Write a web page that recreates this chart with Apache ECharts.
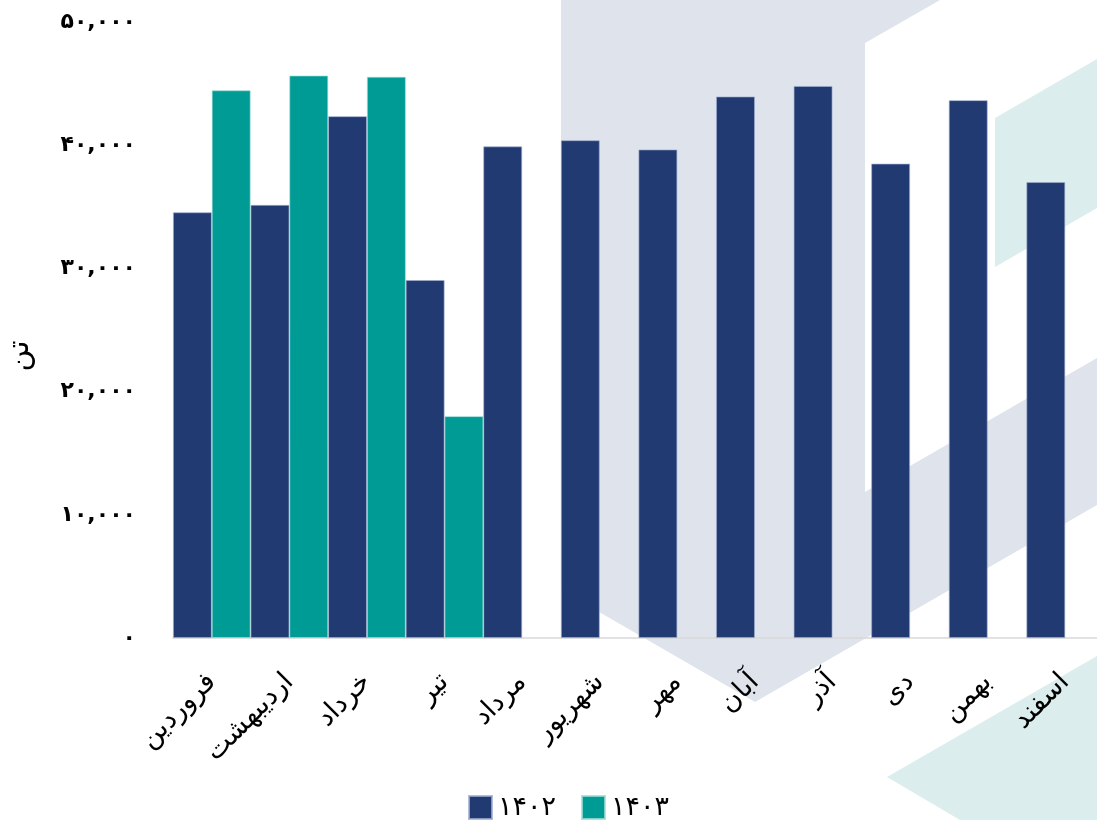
<!DOCTYPE html>
<html><head><meta charset="utf-8">
<script src="https://cdn.jsdelivr.net/npm/echarts@6/dist/echarts.min.js"></script>
<style>html,body{margin:0;padding:0;background:#fff}#c{width:1097px;height:820px}</style>
</head><body><div id="c"></div>
<script>
const categories = ['فروردین','اردیبهشت','خرداد','تیر','مرداد','شهریور','مهر','آبان','آذر','دی','بهمن','اسفند'];
const seriesNames = ['۱۴۰۲','۱۴۰۳'];
const values1402 = [34550, 35150, 42350, 29050, 39900, 40400, 39650, 43950, 44800, 38500, 43650, 37000];
const values1403 = [44450, 45650, 45550, 18000, null, null, null, null, null, null, null, null];
const yTicks = [0, 10000, 20000, 30000, 40000, 50000];
const axisName = 'تن';

const fa = s => String(s).replace(/\d/g, d => '۰۱۲۳۴۵۶۷۸۹'[d]);
const fmt = v => fa(v.toLocaleString('en-US'));
const FONT = 'DejaVu Sans';

const chart = echarts.init(document.getElementById('c'));
chart.setOption({
  backgroundColor: '#fff',
  animation: false,
  graphic: [
    { type: 'polygon', z: -10, silent: true,
      shape: { points: [[561,0],[940,0],[865,43],[865,492],[1097,358],[1097,505],[755,702],[561,590]] },
      style: { fill: '#dfe3ec' } },
    { type: 'polygon', z: -10, silent: true,
      shape: { points: [[995,118],[1097,59],[1097,208],[995,267]] },
      style: { fill: '#dbeeed' } },
    { type: 'polygon', z: -10, silent: true,
      shape: { points: [[887,777],[1097,656],[1097,820],[960,820]] },
      style: { fill: '#dbeeed' } }
  ],
  grid: { left: 173, top: 22, right: -7, bottom: 182, containLabel: false, outerBoundsMode: 'none' },
  legend: {
    data: seriesNames, bottom: -6, left: 463,
    itemWidth: 23, itemHeight: 23, itemGap: 25,
    textStyle: { fontFamily: FONT, fontSize: 27, color: '#000', padding: [0, 0, 0, 1] },
    icon: 'rect'
  },
  xAxis: {
    type: 'category', data: categories,
    axisTick: { show: false },
    axisLine: { lineStyle: { color: '#d9d9d9', width: 1.5 } },
    axisLabel: { rotate: 45, interval: 0, margin: 40, fontFamily: FONT, fontSize: 27, color: '#000' }
  },
  yAxis: {
    type: 'value', min: 0, max: 50000, interval: 10000,
    name: axisName, nameLocation: 'middle', nameRotate: 90, nameGap: 138,
    nameTextStyle: { fontFamily: FONT, fontSize: 30, color: '#000', padding: [0, 52, 0, 0] },
    splitLine: { show: false }, axisLine: { show: false }, axisTick: { show: false },
    axisLabel: { margin: 37, fontFamily: FONT, fontSize: 22, fontWeight: 'bold', color: '#000',
      formatter: v => yTicks.includes(v) ? fmt(v) : '' }
  },
  series: [
    { name: seriesNames[0], type: 'bar', data: values1402, barGap: '0%', barCategoryGap: '0%',
      itemStyle: { color: '#213a71', borderColor: 'rgba(160,175,210,0.8)', borderWidth: 0.8 } },
    { name: seriesNames[1], type: 'bar', data: values1403, barGap: '0%', barCategoryGap: '0%',
      itemStyle: { color: '#009b94', borderColor: 'rgba(160,220,215,0.8)', borderWidth: 0.8 } }
  ]
});
</script></body></html>
